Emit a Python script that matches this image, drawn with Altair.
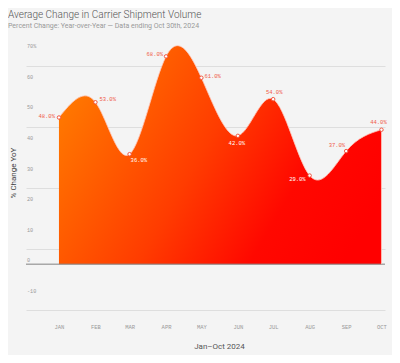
import altair as alt
import pandas as pd

months = ["2024-01-01", "2024-02-01", "2024-03-01", "2024-04-01", "2024-05-01",
          "2024-06-01", "2024-07-01", "2024-08-01", "2024-09-01", "2024-10-01"]
values = [48.0, 53.0, 36.0, 68.0, 61.0, 42.0, 54.0, 29.0, 37.0, 44.0]
grid_ticks = list(range(-15, 75, 5))
y_label_values = [70, 60, 50, 40, 30, 20, 10, 0, -10]
y_label_texts = ["70%", "60", "50", "40", "30", "20", "10", "0", "-10"]

df = pd.DataFrame({"month": months, "value": values})
ylab_df = pd.DataFrame({"tick": y_label_values, "text": y_label_texts})

W, H = 359, 275
MONO = "Liberation Mono"
SANS = "Roboto"

xscale = alt.Scale(type="utc", domain=[
    alt.DateTime(year=2023, month=12, date=4, utc=True),
    alt.DateTime(year=2024, month=10, date=4, utc=True)])
yscale = alt.Scale(domain=[-15, 75], nice=False, zero=False)

x_vals = [alt.DateTime(year=2024, month=m, date=1, utc=True) for m in range(1, 11)]

base = alt.Chart(df).transform_calculate(
    label="format(datum.value, '.1f') + '%'"
).encode(
    x=alt.X("month:T", scale=xscale, title="Jan–Oct 2024",
            axis=alt.Axis(grid=False, domain=False, ticks=False, values=x_vals,
                          labelExpr="upper(utcFormat(datum.value, '%b'))",
                          labelFont=MONO, labelFontSize=5.5, labelColor="#9a9a9a",
                          labelPadding=16, labelBaseline="middle", labelFlush=False,
                          labelOverlap=False, titleFont=SANS, titleFontSize=8,
                          titleFontWeight="normal", titleColor="#555",
                          titleX=193, titleY=36, titleBaseline="middle")),
    y=alt.Y("value:Q", scale=yscale, title="% Change YoY",
            axis=alt.Axis(grid=True, gridColor="#dedede", gridWidth=1, domain=False,
                          ticks=False, labels=False, values=grid_ticks,
                          titleFont=SANS, titleFontSize=8, titleFontWeight="normal",
                          titleColor="#444", titleX=-13, titleY=H / 2,
                          titleAngle=270, titleBaseline="middle")),
)

grad = alt.Gradient(
    gradient="linear",
    stops=[alt.GradientStop(color="#ff7800", offset=0),
           alt.GradientStop(color="#ff3c00", offset=0.45),
           alt.GradientStop(color="#ff0800", offset=0.75),
           alt.GradientStop(color="#ff0000", offset=1)],
    x1=0, y1=0.3, x2=1, y2=0.7)

area = base.mark_area(interpolate="natural", color=grad, opacity=1)
line = base.mark_line(interpolate="natural", stroke="#ffc8bc", strokeWidth=1, opacity=0.8)
edge = base.mark_rule(stroke="#ffc8bc", strokeWidth=1, opacity=0.8).encode(
    y2=alt.datum(0)).transform_filter("utcmonth(datum.month) == 9")

zero = alt.Chart(alt.Data(values=[{}])).mark_rule(
    color="#888", strokeWidth=1.5, opacity=0.7).encode(y=alt.datum(0))

ylabels = alt.Chart(ylab_df).mark_text(
    align="left", baseline="bottom", dy=-1, font=MONO, fontSize=5.2, color="#9a9a9a"
).encode(x=alt.value(1), y=alt.Y("tick:Q", scale=yscale, title="% Change YoY"),
         text="text:N")

points = base.mark_point(shape="circle", filled=True, fill="white", stroke="#f25540",
                         strokeWidth=1, size=12, opacity=1)

RED = "#f05a48"
WHITE = "#ffffff"
label_specs = [
    (0, "right", -4, -2, RED),
    (1, "left", 4, -3, RED),
    (2, "left", 1, 6, WHITE),
    (3, "right", -3, -2, RED),
    (4, "left", 3, -2, RED),
    (5, "center", -1, 7, WHITE),
    (6, "center", 1, -7, RED),
    (7, "right", -4, 3, WHITE),
    (8, "right", -1, -6, RED),
    (9, "center", -3, -8, RED),
]
labels = []
for m, align, dx, dy, col in label_specs:
    labels.append(
        base.mark_text(align=align, baseline="middle", dx=dx, dy=dy, font=MONO,
                       fontSize=5.5, color=col)
        .encode(text="label:N")
        .transform_filter(f"utcmonth(datum.month) == {m}")
    )

chart = alt.layer(area, zero, line, edge, points, ylabels, *labels).properties(
    width=W, height=H,
    padding={"left": 18, "top": 27, "right": 7, "bottom": 45},
    autosize=alt.AutoSizeParams(type="none"),
    background="#f4f4f4",
    title=alt.TitleParams(
        text="Average Change in Carrier Shipment Volume",
        subtitle="Percent Change: Year-over-Year — Data ending Oct 30th, 2024",
        anchor="start", frame="group", dx=-18, offset=6,
        font=SANS, fontSize=10, fontWeight=300, color="#555",
        subtitleFont=SANS, subtitleFontSize=7, subtitleColor="#999",
        subtitlePadding=2),
).configure_view(strokeWidth=0)

chart.save("out.html", embed_options={"renderer": "svg", "actions": False})
